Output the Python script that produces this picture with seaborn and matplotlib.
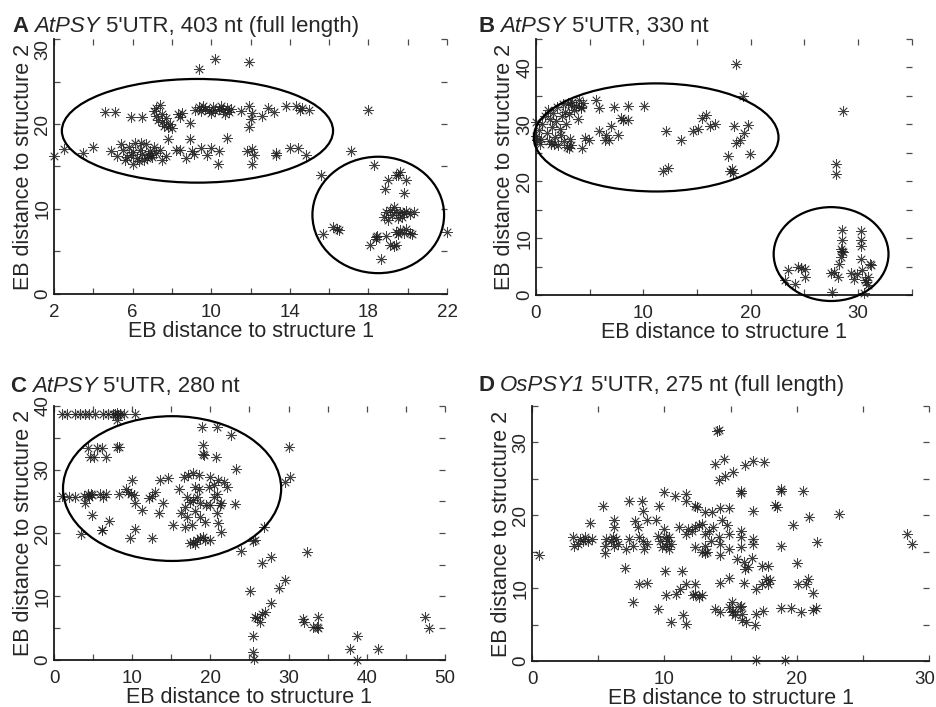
import numpy as np
import pandas as pd
import matplotlib
matplotlib.use("Agg")
import matplotlib.pyplot as plt
from matplotlib.patches import Ellipse
from matplotlib.transforms import ScaledTranslation
import seaborn as sns

# (EB distance to structure 1, EB distance to structure 2)
panel_a = [
    (9.4, 26.5), (10.2, 27.7), (11.9, 27.3),
    (4.6, 21.4), (5.1, 21.4), (5.9, 20.8), (6.5, 20.8),
    (7.1, 21.5), (7.2, 21.9), (7.4, 22.2), (7.2, 20.9), (7.3, 20.5), (7.5, 20.2), (7.6, 19.8),
    (7.8, 19.6), (7.9, 20.0), (7.7, 20.7), (7.5, 21.2), (8.0, 19.5),
    (8.3, 21.2), (8.5, 21.3), (8.4, 20.8), (8.9, 20.1),
    (9.2, 21.6), (9.4, 22.0), (9.5, 21.5), (9.7, 21.8), (9.9, 21.6), (10.1, 22.0), (10.2, 21.5),
    (10.4, 21.8), (10.5, 22.1), (10.6, 21.6), (10.8, 21.9), (10.9, 21.4), (11.0, 21.8), (9.6, 22.1),
    (10.0, 21.3), (10.7, 21.2),
    (11.5, 21.5), (11.9, 22.1), (12.0, 20.6), (11.9, 19.7), (12.1, 21.3), (12.6, 21.0), (12.9, 21.9),
    (13.2, 21.4), (13.8, 22.1), (14.3, 22.1), (14.5, 21.7), (14.6, 21.9), (15.0, 21.6),
    (2.0, 16.2), (2.5, 17.1), (3.5, 16.6), (4.0, 17.3), (4.9, 16.8),
    (5.2, 16.2), (5.4, 17.6), (5.5, 16.9), (5.6, 15.8), (5.8, 17.3), (5.9, 16.4), (6.0, 15.3),
    (6.1, 17.8), (6.2, 16.0), (6.3, 15.6), (6.4, 17.0), (6.5, 16.5), (6.6, 15.8), (6.7, 17.6),
    (6.8, 16.3), (6.9, 16.8), (7.0, 16.1), (7.1, 17.3), (7.2, 16.6), (6.95, 16.4), (6.75, 16.0),
    (6.45, 17.8), (5.7, 16.1), (6.0, 16.7), (7.4, 17.0), (7.5, 15.8),
    (7.8, 18.2), (7.7, 16.2), (8.2, 17.0), (8.4, 16.9), (8.7, 16.0), (8.9, 18.2), (9.0, 16.8),
    (9.1, 16.5), (9.5, 17.2), (9.8, 16.4), (10.0, 17.2), (10.35, 15.3), (10.4, 16.8), (10.8, 18.4),
    (11.8, 16.8), (12.1, 17.1), (12.2, 16.3), (12.1, 15.3), (13.3, 16.6), (13.3, 16.4), (14.0, 17.2),
    (14.4, 17.2), (14.8, 16.4),
    (15.6, 14.0), (17.1, 16.8), (18.0, 21.6), (18.3, 15.2),
    (19.0, 13.4), (18.85, 12.3), (19.4, 14.0), (19.6, 14.3), (19.5, 14.0), (19.9, 13.4), (19.8, 11.9),
    (18.8, 9.0), (18.9, 9.6), (19.0, 8.7), (19.1, 9.9), (19.2, 9.3), (19.3, 10.2), (19.4, 9.6),
    (19.5, 8.9), (19.6, 9.7), (19.8, 9.5), (19.9, 9.8), (20.1, 9.4), (20.3, 9.6), (19.7, 9.1),
    (19.4, 7.3), (19.6, 7.5), (19.8, 7.2), (19.9, 7.7), (20.1, 7.2), (20.2, 7.0), (19.5, 7.1),
    (18.4, 6.7), (18.4, 6.5), (18.45, 6.8), (18.1, 5.8), (18.9, 6.8), (19.1, 5.8), (19.3, 5.6),
    (19.4, 5.8), (18.65, 4.1),
    (15.7, 7.0), (16.2, 7.9), (16.5, 7.5), (16.4, 7.7), (22.0, 7.3),
]

panel_b = [
    (18.6, 40.6), (19.3, 35.0), (28.6, 32.4), (28.0, 23.1), (28.0, 21.2),
    (3.3, 33.4), (4.2, 33.1), (5.6, 34.3), (5.9, 32.8), (7.3, 33.1), (8.6, 33.3), (10.1, 33.3),
    (7.9, 31.1), (8.6, 30.8), (8.1, 30.8),
    (5.9, 28.8), (6.5, 28.2), (7.0, 29.7), (7.6, 28.2), (6.8, 27.3), (6.4, 27.3), (4.6, 27.6),
    (4.9, 27.3), (4.3, 25.9),
    (12.1, 28.8), (13.5, 27.2), (11.8, 21.8), (12.3, 22.3), (14.6, 28.8), (15.1, 29.1), (15.5, 31.2),
    (15.8, 31.7), (16.2, 29.7), (16.7, 30.1), (18.5, 29.7), (18.6, 26.7), (19.0, 27.3), (19.4, 28.5),
    (19.8, 29.9), (19.9, 24.8), (17.9, 24.4), (18.3, 22.1), (18.4, 21.5), (18.1, 21.8),
    (0.0, 30.5), (0.0, 28.0), (0.1, 27.2), (0.3, 29.0), (0.5, 27.5), (0.6, 30.0), (0.8, 31.5),
    (1.0, 28.5), (1.2, 27.0), (1.3, 31.0), (1.4, 26.5), (1.5, 29.5), (1.6, 32.0), (1.8, 27.8),
    (1.9, 30.6), (2.0, 33.0), (2.1, 26.3), (2.3, 28.2), (2.4, 31.5), (2.5, 33.5), (2.6, 27.0),
    (2.7, 32.2), (2.8, 30.0), (2.9, 26.0), (3.0, 33.8), (3.1, 31.8), (3.2, 27.5), (3.4, 34.0),
    (3.5, 32.5), (3.7, 33.2), (3.9, 31.0), (4.0, 34.3), (4.2, 32.8), (4.4, 33.8), (1.1, 32.5),
    (2.2, 29.2), (0.4, 26.5), (1.7, 26.6), (3.3, 26.4), (3.1, 25.8),
    (23.5, 4.4), (23.2, 2.6), (24.1, 2.0), (24.4, 4.9), (24.7, 4.7), (25.1, 4.5), (25.1, 3.2),
    (27.6, 0.6), (27.5, 3.8), (27.8, 4.1), (28.1, 3.2), (28.2, 5.5), (28.4, 6.7), (28.5, 7.8),
    (28.6, 7.6), (28.5, 9.7), (28.5, 11.5), (28.4, 8.1), (29.4, 3.8), (29.6, 2.9), (29.9, 3.7),
    (30.3, 11.3), (30.3, 9.7), (30.3, 8.7), (30.3, 6.4), (30.4, 4.4), (30.7, 2.7), (30.8, 2.3),
    (30.9, 1.7), (31.1, 5.5), (31.2, 5.2), (30.6, 0.3), (30.9, 3.2),
]

panel_c = [
    (1.0, 38.8), (1.6, 38.8), (2.7, 38.8), (3.3, 38.8), (3.9, 38.8), (4.5, 38.8), (5.3, 38.8),
    (6.3, 38.8), (6.9, 38.8), (7.6, 38.8), (7.8, 38.8), (8.0, 38.9), (8.2, 38.6), (8.5, 38.8),
    (9.0, 38.8), (8.0, 37.8), (10.4, 38.8),
    (4.4, 33.4), (5.5, 33.4), (6.1, 33.4), (4.6, 31.9), (5.1, 31.9), (6.6, 31.9), (8.0, 33.5),
    (8.3, 33.5),
    (18.9, 36.7), (20.8, 36.7), (22.6, 35.4), (19.1, 33.9), (19.1, 32.5), (19.2, 32.3), (20.7, 32.0),
    (23.3, 30.1), (30.0, 33.6), (30.2, 28.9), (29.5, 28.1),
    (1.0, 25.8), (1.9, 25.7), (2.7, 25.7), (3.8, 25.8), (4.3, 26.1), (4.9, 26.0), (4.5, 25.7),
    (4.7, 26.1), (5.9, 26.1), (6.3, 25.7), (6.6, 26.1), (4.0, 24.7), (4.9, 22.8), (6.1, 20.5),
    (6.2, 20.4), (7.0, 21.9), (3.4, 19.9), (8.3, 26.1),
    (9.2, 26.9), (9.5, 26.5), (9.8, 26.2), (10.2, 26.0), (10.0, 28.3), (10.4, 24.7), (11.2, 23.6),
    (9.7, 19.2), (10.4, 20.7), (12.5, 19.2), (12.1, 25.5), (12.5, 25.8), (12.9, 26.5), (13.5, 28.3),
    (13.4, 23.1), (14.0, 24.7), (14.6, 28.6), (15.2, 21.3), (16.0, 27.0),
    (16.6, 28.9), (17.2, 29.1), (17.8, 29.4), (18.5, 29.1), (18.0, 27.3), (18.5, 27.0), (17.0, 25.7),
    (17.4, 24.9), (17.8, 25.2), (18.3, 25.7), (18.7, 24.7), (16.8, 24.1), (16.3, 23.1), (17.0, 22.6),
    (18.0, 23.4), (18.7, 22.6), (19.3, 21.8), (16.8, 21.0), (17.6, 21.3), (20.0, 28.9), (20.4, 27.6),
    (19.8, 27.3), (19.5, 24.4), (20.0, 24.4), (21.2, 24.4), (21.4, 24.7), (21.0, 28.3), (21.7, 28.1),
    (22.1, 27.3), (20.8, 26.2), (20.8, 23.1), (21.0, 21.5), (21.4, 20.1), (20.0, 18.9), (23.2, 24.6),
    (20.4, 25.7),
    (17.4, 18.4), (17.8, 18.6), (18.3, 18.9), (18.7, 19.2), (19.1, 19.4), (19.3, 18.9), (18.0, 18.3),
    (23.9, 17.2), (25.4, 18.8), (25.7, 18.9), (26.8, 21.0), (26.6, 15.3), (27.8, 16.2), (32.3, 17.0),
    (29.5, 12.6), (28.8, 11.3), (25.1, 10.9), (27.8, 8.9), (27.0, 7.6), (26.6, 7.3), (26.0, 6.6),
    (25.7, 6.8), (26.3, 6.0), (31.8, 6.5), (32.0, 6.0), (33.1, 5.2), (33.8, 6.7), (33.8, 5.0),
    (33.6, 5.2), (25.4, 3.7), (25.5, 1.3), (25.6, 0.1), (38.7, 3.8), (37.8, 1.8), (41.4, 1.8),
    (38.7, 0.0), (47.4, 6.8), (48.0, 5.0),
]

panel_d = [
    (0.5, 14.5),
    (3.1, 17.0), (3.2, 15.8), (3.6, 16.8), (3.85, 16.5), (4.0, 17.0), (4.2, 16.5), (4.5, 16.8),
    (3.5, 16.1), (4.4, 18.9), (5.35, 21.3), (5.5, 15.8), (5.6, 16.8), (5.55, 14.8), (6.2, 19.3),
    (6.2, 18.4), (6.1, 17.0), (6.35, 16.8), (6.5, 16.1), (6.2, 15.8), (6.0, 16.5), (7.0, 12.8),
    (7.1, 15.4), (7.35, 22.0), (7.35, 16.8), (7.6, 15.8), (7.8, 19.2), (8.0, 18.4), (8.1, 17.0),
    (8.3, 22.0), (8.4, 20.6), (8.35, 16.5), (8.5, 15.4), (8.7, 16.1), (8.7, 19.3), (9.35, 19.3),
    (9.6, 21.3), (9.5, 17.1), (9.7, 16.5), (9.85, 15.6), (10.0, 23.2), (10.0, 18.1), (10.1, 17.0),
    (10.1, 15.8), (10.2, 16.5), (10.35, 15.4), (10.5, 16.1), (10.35, 17.0), (10.05, 12.4),
    (8.1, 10.6), (8.7, 10.7), (7.6, 8.1), (9.5, 7.1), (10.1, 9.0), (10.5, 5.3), (10.8, 22.7),
    (11.35, 12.4), (10.85, 9.2), (11.2, 9.9), (11.6, 10.6), (11.4, 6.3), (11.6, 5.1), (11.6, 22.9),
    (11.6, 22.0), (11.1, 18.4), (11.8, 18.1), (11.6, 17.4), (12.1, 17.8), (12.35, 18.4),
    (12.35, 15.6), (12.5, 21.1), (12.3, 21.3), (12.2, 9.0), (12.35, 9.2), (12.6, 8.8), (12.85, 9.0),
    (12.3, 10.6), (12.6, 18.6), (12.85, 18.8), (13.1, 17.4), (13.35, 17.8), (13.5, 16.5),
    (13.1, 15.8), (12.85, 14.9), (13.6, 20.4), (13.7, 18.4), (13.1, 14.8), (14.2, 14.6),
    (14.0, 31.6), (14.1, 31.7),
    (13.85, 27.1), (14.5, 27.7), (14.1, 24.8), (14.6, 25.4), (15.2, 25.9), (16.1, 26.9), (16.7, 27.5),
    (17.55, 27.3), (15.8, 23.4), (15.8, 23.0), (18.85, 23.6), (18.85, 23.4), (20.5, 23.3),
    (18.35, 21.4), (18.5, 21.2), (16.7, 20.6), (20.9, 19.7), (23.2, 20.2), (19.7, 18.6), (21.5, 16.4),
    (18.85, 15.8), (16.7, 16.8), (16.7, 16.0), (15.8, 17.9), (15.8, 17.0), (15.8, 15.7),
    (28.35, 17.4), (28.7, 16.1), (13.1, 20.4), (14.2, 21.0), (14.85, 21.0), (14.35, 19.3),
    (14.7, 18.6), (14.1, 17.0), (14.85, 17.4), (14.2, 16.1), (14.85, 15.4), (13.25, 14.9),
    (15.5, 14.0), (16.0, 13.6), (16.35, 12.9), (16.1, 12.6), (16.6, 14.2), (17.35, 13.1),
    (17.85, 13.0), (17.95, 11.1), (17.7, 11.3), (17.85, 10.6), (17.35, 10.6), (16.9, 9.9),
    (20.05, 13.4), (20.1, 10.6), (20.7, 10.6), (20.85, 11.3), (21.2, 9.3), (16.05, 10.7),
    (14.2, 10.7), (14.85, 11.4), (13.85, 7.2), (14.2, 6.7), (14.85, 7.4), (15.1, 6.7), (15.35, 6.3),
    (15.7, 7.4), (15.85, 5.6), (15.1, 8.1), (15.2, 6.9), (15.8, 7.5), (15.85, 6.5), (16.2, 5.3),
    (16.85, 4.9), (16.95, 6.5), (17.45, 6.8), (18.85, 7.3), (19.55, 7.3), (20.3, 6.7), (21.2, 7.0),
    (21.45, 7.3), (16.9, 0.1), (19.15, 0.1),
]

# panel letter, gene name (italic), rest of the title
letters = ["A", "B", "C", "D"]
genes = ["AtPSY", "AtPSY", "AtPSY", "OsPSY1"]
captions = ["5'UTR, 403 nt (full length)", "5'UTR, 330 nt", "5'UTR, 280 nt",
            "5'UTR, 275 nt (full length)"]

# ellipses drawn around the clusters: (center x, center y, width, height)
ellipses_a = [(9.3, 19.2, 13.8, 12.2), (18.5, 9.3, 6.7, 13.7)]
ellipses_b = [(11.2, 27.7, 22.8, 19.0), (27.5, 7.2, 10.7, 16.5)]
ellipses_c = [(15.1, 27.0, 27.9, 22.8)]
ellipses_d = []

sns.set_theme(style="ticks")
plt.rcParams["font.family"] = ["Liberation Sans", "DejaVu Sans"]

fig = plt.figure(figsize=(9.36, 7.07), dpi=100)

positions = [
    [0.0577, 0.5842, 0.4199, 0.3606],
    [0.5726, 0.5827, 0.4013, 0.3621],
    [0.0577, 0.0665, 0.4177, 0.3592],
    [0.5684, 0.0651, 0.4241, 0.3606],
]
# xlim, ylim, x tick step, x label step, y tick step, y label step
axis_specs = [
    ((2, 22), (0, 30), 2, 4, 5, 10),
    ((0, 35), (0, 45), 5, 10, 5, 10),
    ((0, 50), (0, 40), 5, 10, 5, 10),
    ((0, 30), (0, 35), 5, 10, 5, 10),
]
title_pos = [(0.0128, 0.9547), (0.5107, 0.9547), (0.0107, 0.4455), (0.5107, 0.4470)]
panels = [panel_a, panel_b, panel_c, panel_d]
all_ellipses = [ellipses_a, ellipses_b, ellipses_c, ellipses_d]

for i in range(4):
    ax = fig.add_axes(positions[i])
    df = pd.DataFrame(panels[i], columns=["s1", "s2"])
    sns.scatterplot(data=df, x="s1", y="s2", marker=(8, 2, 0), s=50, color="0.12",
                    linewidth=0.6, alpha=0.85, ax=ax, clip_on=False, zorder=3)

    for cx, cy, w, h in all_ellipses[i]:
        ax.add_patch(Ellipse((cx, cy), w, h, fill=False, edgecolor="black",
                             linewidth=1.6, clip_on=False, zorder=4))

    (x0, x1), (y0, y1), xs, xls, ys, yls = axis_specs[i]
    ax.set_xlim(x0, x1)
    ax.set_ylim(y0, y1)
    xt = np.arange(x0, x1 + 0.01, xs)
    yt = np.arange(y0, y1 + 0.01, ys)
    ax.set_xticks(xt)
    ax.set_yticks(yt)
    ax.set_xticklabels([f"{v:g}" if (v - x0) % xls == 0 else "" for v in xt])
    ax.set_yticklabels([f"{v:g}" if (v - y0) % yls == 0 else "" for v in yt],
                       rotation=90, va="center")

    for side in ["top", "right"]:
        ax.spines[side].set_visible(False)
    for side in ["left", "bottom"]:
        ax.spines[side].set_linewidth(1.3)
        ax.spines[side].set_color("0.1")
    ax.tick_params(axis="both", direction="in", length=4, width=0.9, color="0.3",
                   top=True, right=True, labelsize=13.5)
    ax.tick_params(axis="x", pad=7)
    ax.tick_params(axis="y", pad=2)

    ax.set_xlabel("EB distance to structure 1", fontsize=15.5, labelpad=0)
    ax.set_ylabel("EB distance to structure 2", fontsize=15.5, labelpad=0.5)

    if i == 0:
        # top label of panel A sits below its tick, clear of the title
        ax.get_yticklabels()[-1].set_va("top")
    if i == 3:
        lab = ax.get_xticklabels()[-1]
        lab.set_transform(lab.get_transform() + ScaledTranslation(-4 / 100, 0, fig.dpi_scale_trans))

    # title: bold letter, italic gene name, plain rest, chained side by side
    t1 = fig.text(title_pos[i][0], title_pos[i][1], letters[i], fontsize=16,
                  fontweight="bold", va="baseline", ha="left")
    t2 = ax.annotate(genes[i], xy=(1, 0), xycoords=t1, xytext=(4.5, 0),
                     textcoords="offset points", fontsize=16, fontstyle="italic",
                     va="bottom", ha="left", annotation_clip=False)
    ax.annotate(captions[i], xy=(1, 0), xycoords=t2, xytext=(4.0, 0),
                textcoords="offset points", fontsize=16, va="bottom", ha="left",
                annotation_clip=False)

fig.savefig("out.png", dpi=100)
